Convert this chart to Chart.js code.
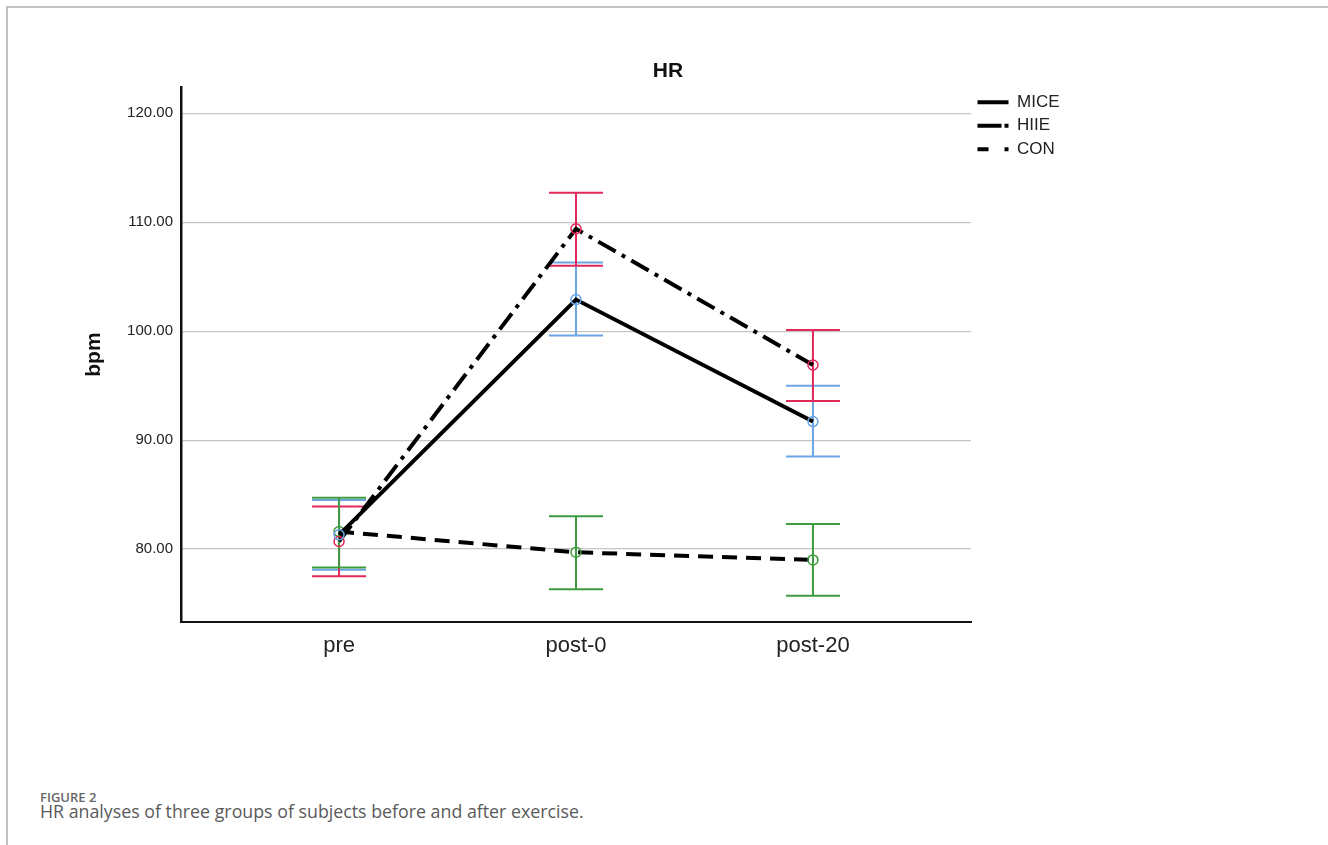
<!DOCTYPE html>
<html>
<head>
<meta charset="utf-8">
<title>HR</title>
<script src="https://cdn.jsdelivr.net/npm/chart.js@4.4.1/dist/chart.umd.min.js"></script>
<style>
  html, body { margin: 0; padding: 0; background: #fff; }
  body { width: 1328px; height: 845px; position: relative; overflow: hidden; }
  .frame { position: absolute; left: 6px; top: 6px; right: 0; bottom: -4px; border-top: 2px solid #c2c2c2; border-left: 2px solid #c2c2c2; }
  #hrChart { position: absolute; left: 8px; top: 8px; }
  .fig-label { position: absolute; left: 40px; top: 789px; font: 600 13px/16px 'Open Sans', sans-serif; color: #666; }
  .fig-text { position: absolute; left: 40px; top: 800px; font: 400 17.8px/22px 'Open Sans', sans-serif; color: #5a5a5a; }
</style>
</head>
<body>
<div class="frame"></div>
<canvas id="hrChart" width="1320" height="700"></canvas>
<div class="fig-label">FIGURE 2</div>
<div class="fig-text">HR analyses of three groups of subjects before and after exercise.</div>

<script>
const phases = ['pre', 'post-0', 'post-20'];
const yTicks = [80, 90, 100, 110, 120];

// group means with lower / upper ends of the error bars
const miceMean = [81.3, 102.9, 91.7];
const miceLow = [78.1, 99.6, 88.5];
const miceHigh = [84.5, 106.3, 95.0];

const hiieMean = [80.7, 109.4, 96.9];
const hiieLow = [77.5, 106.0, 93.6];
const hiieHigh = [83.9, 112.7, 100.1];

const conMean = [81.6, 79.7, 79.0];
const conLow = [78.3, 76.3, 75.7];
const conHigh = [84.7, 83.0, 82.3];

const FONT = "'Liberation Sans', Arial, sans-serif";
const BLUE = '#6aa6e6';
const RED = '#e3285a';
const GREEN = '#3f9b3f';
const PLOT_RIGHT = 963;

const points = (mean, low, high) => mean.map((v, i) => ({ x: i, y: v, low: low[i], high: high[i] }));

// vertical bars with caps, drawn under the mean lines
const errorBars = {
    id: 'errorBars',
    beforeDatasetsDraw(chart, args, opts) {
        const { ctx, scales: { x, y } } = chart;
        chart.data.datasets.forEach((ds, i) => {
            if (!chart.isDatasetVisible(i)) return;
            ctx.save();
            ctx.strokeStyle = ds.errorColor;
            ctx.lineWidth = opts.width;
            ds.data.forEach((p) => {
                const px = x.getPixelForValue(p.x);
                const top = y.getPixelForValue(p.high);
                const bottom = y.getPixelForValue(p.low);
                ctx.beginPath();
                ctx.moveTo(px, top);
                ctx.lineTo(px, bottom);
                ctx.moveTo(px - opts.cap, top);
                ctx.lineTo(px + opts.cap, top);
                ctx.moveTo(px - opts.cap, bottom);
                ctx.lineTo(px + opts.cap, bottom);
                ctx.stroke();
            });
            ctx.restore();
        });
    }
};

const groupStyle = (color) => ({
    borderColor: '#000',
    borderWidth: 4,
    pointRadius: 5,
    pointHoverRadius: 5,
    pointBorderWidth: 1.5,
    pointBorderColor: color,
    pointBackgroundColor: 'rgba(0,0,0,0)',
    errorColor: color
});

const data = {
    datasets: [
        { label: 'MICE', data: points(miceMean, miceLow, miceHigh), ...groupStyle(BLUE), borderDash: [], legendDash: [] },
        { label: 'HIIE', data: points(hiieMean, hiieLow, hiieHigh), ...groupStyle(RED), borderDash: [20, 7, 4, 7], legendDash: [24, 3, 4, 10] },
        { label: 'CON', data: points(conMean, conLow, conHigh), ...groupStyle(GREEN), borderDash: [15, 9], legendDash: [11, 16, 4, 10] }
    ]
};

const config = {
    type: 'line',
    data: data,
    plugins: [errorBars],
    options: {
        responsive: false,
        animation: false,
        devicePixelRatio: 1,
        layout: { padding: 0 },
        scales: {
            x: {
                type: 'linear',
                min: -0.667,
                max: 2.667,
                afterBuildTicks: (s) => { s.ticks = phases.map((_, i) => ({ value: i })); },
                ticks: {
                    callback: (v) => phases[v],
                    color: '#222',
                    font: { family: FONT, size: 22 },
                    padding: 11,
                    maxRotation: 0,
                    autoSkip: false
                },
                grid: { color: 'rgba(0,0,0,0)', drawTicks: false },
                border: { color: '#111', width: 2 },
                afterFit: (s) => { s.height = 86; }
            },
            y: {
                min: 73.3,
                max: 122.4,
                afterBuildTicks: (s) => { s.ticks = yTicks.map((v) => ({ value: v })); },
                ticks: {
                    callback: (v) => v.toFixed(2),
                    color: '#222',
                    font: { family: FONT, size: 15 },
                    padding: 8
                },
                grid: { color: '#c4c4c4', lineWidth: 1.2, drawTicks: false },
                border: { color: '#111', width: 2.5 },
                title: {
                    display: true,
                    text: 'bpm',
                    color: '#111',
                    font: { family: FONT, size: 21, weight: 'bold' },
                    padding: { top: 74, bottom: 0 }
                },
                afterFit: (s) => { s.width = 173; }
            },
            // empty space on the far right, keeps the legend next to the plot
            gutter: {
                type: 'linear',
                position: 'right',
                weight: 2000,
                grid: { display: false, drawTicks: false },
                ticks: { display: false },
                border: { display: false },
                afterFit: (s) => {
                    const legendWidth = s.chart.legend ? s.chart.legend.width : 0;
                    s.width = s.chart.width - PLOT_RIGHT - legendWidth;
                }
            }
        },
        plugins: {
            title: {
                display: true,
                text: 'HR',
                color: '#111',
                font: { family: FONT, size: 21, weight: 'bold' },
                padding: { top: 51, bottom: 3 }
            },
            legend: {
                position: 'right',
                align: 'start',
                fullSize: false,
                labels: {
                    usePointStyle: true,
                    pointStyle: 'line',
                    pointStyleWidth: 31,
                    padding: 6.5,
                    font: { family: FONT, size: 17 },
                    generateLabels: (chart) => chart.data.datasets.map((ds, i) => ({
                        text: ds.label,
                        fontColor: '#222',
                        strokeStyle: ds.borderColor,
                        fillStyle: ds.borderColor,
                        lineWidth: ds.borderWidth,
                        lineDash: ds.legendDash,
                        pointStyle: 'line',
                        hidden: !chart.isDatasetVisible(i),
                        datasetIndex: i
                    }))
                }
            },
            tooltip: { enabled: false },
            errorBars: { width: 2, cap: 27 }
        }
    }
};

const hrChart = new Chart(document.getElementById('hrChart'), config);
</script>
</body>
</html>
